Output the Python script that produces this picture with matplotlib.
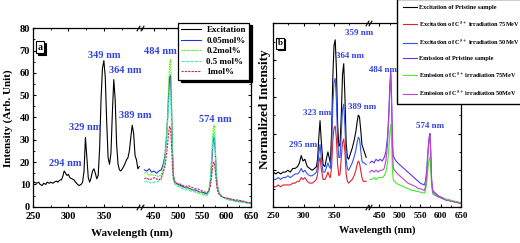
import matplotlib
matplotlib.use('Agg')
import matplotlib.pyplot as plt
from matplotlib.ticker import MultipleLocator, FixedLocator, NullFormatter
from matplotlib import transforms

plt.rcParams['font.family'] = 'serif'
plt.rcParams['font.serif'] = ['Liberation Serif', 'DejaVu Serif']
plt.rcParams['font.weight'] = 'bold'
plt.rcParams['mathtext.fontset'] = 'stix'
plt.rcParams['axes.linewidth'] = 0.9
plt.rcParams['xtick.direction'] = 'in'
plt.rcParams['ytick.direction'] = 'in'
plt.rcParams['xtick.major.size'] = 2.5
plt.rcParams['ytick.major.size'] = 2.5
plt.rcParams['xtick.minor.size'] = 1.5
plt.rcParams['ytick.minor.size'] = 1.5

# ---------------- panel a data ----------------
a_ex_wl = [250, 252, 255, 258, 260, 263, 265, 268, 270, 273, 275, 278, 280, 283, 285, 288,
           290, 292, 294, 296, 298, 300, 302, 305, 308, 310, 313, 315, 318, 320, 322, 324,
           326, 328, 330, 332, 334, 336, 338, 340, 342, 344, 346, 348, 350, 352, 354, 356,
           358, 360, 362, 364, 366, 368, 370, 372, 374, 376, 378, 380, 382, 384, 386, 388,
           390, 392, 394, 396, 398, 400]
a_excitation = [10.5, 11, 10.5, 11, 10, 9.5, 10.5, 10, 11, 10.5, 11, 10.5, 11, 11.5, 11, 12,
                12, 13.5, 16, 15, 14, 14.5, 13, 12.5, 12, 11, 10, 9.5, 10, 11, 16, 31,
                22, 13, 11, 13, 16, 17, 15, 12.5, 14, 26, 48, 62, 65.5, 58, 38, 22,
                19, 24, 42, 57, 48, 28, 19, 16.5, 16, 17, 18, 19.5, 21, 22, 25, 31,
                36.5, 33, 23, 21, 17, 18]

a_em_wl = [430, 435, 440, 445, 450, 455, 460, 465, 470, 473, 476, 478, 480, 482, 484, 486,
           488, 490, 493, 496, 500, 505, 510, 515, 520, 525, 530, 535, 540, 545, 550, 555,
           560, 563, 566, 568, 570, 572, 574, 576, 578, 580, 583, 586, 590, 595, 600, 605,
           610, 615, 620, 625, 630, 635, 640, 645, 650]
a_005 = [16.5, 16, 17, 15.5, 16, 15, 16, 16.5, 20, 24, 32, 40, 50, 58, 59, 45,
         25, 14, 11, 10.5, 10, 9.5, 9, 8.5, 8.5, 8, 7.5, 7.5, 7, 6.5, 6.5, 6,
         6, 7, 11, 16, 23, 30, 31.5, 26, 16, 10, 7, 5.5, 4.5, 4, 3.5, 3.5,
         3, 3, 2.5, 2.5, 2.5, 2, 2, 1.5, 1.5]
a_02 = [15, 15.5, 14, 14.5, 14, 14, 13.5, 14.5, 19, 24, 33, 42, 54, 64, 66, 48,
        26, 14, 11, 10, 9.5, 9, 8.5, 8.5, 8, 7.5, 7.5, 7, 6.5, 6.5, 6, 5.5,
        5.5, 7, 12, 19, 28, 35, 36.5, 30, 18, 11, 7, 5.5, 4.5, 4, 3.5, 3,
        3, 2.5, 2.5, 2.5, 2, 2, 2, 1.5, 1.5]
a_05 = [11, 11.5, 11, 10.5, 11, 11, 11.5, 12, 17, 22, 30, 38, 46, 51, 50, 38,
        22, 12, 10, 9.5, 9, 8.5, 8, 7.5, 7.5, 7, 7, 6.5, 6, 6, 5.5, 5,
        5, 6.5, 11, 18, 26, 32, 33, 27, 17, 10, 6.5, 5, 4.5, 4, 3.5, 3,
        3, 2.5, 2.5, 2, 2, 2, 1.5, 1.5, 1.5]
a_1 = [12.5, 13, 12, 12.5, 13, 12.5, 12, 13, 16, 19, 24, 28, 33, 36, 35, 28,
       18, 12, 11, 10.5, 10.5, 10, 9.5, 9, 9.5, 9, 8.5, 8, 8, 7.5, 7, 6.5,
       6.5, 7, 9, 12, 16, 19.5, 20, 17, 12, 8, 6, 5, 4.5, 4, 4, 3.5,
       3.5, 3, 3, 3, 2.5, 2.5, 2, 2, 1.5]
a_labels = ['Excitation', '0.05mol%', '0.2mol%', '0.5 mol%', '1mol%']
a_peaks_left = [('294 nm', 296, 19.5), ('329 nm', 323, 35.5), ('349 nm', 350, 68),
                ('364 nm', 380, 61), ('389 nm', 395, 41)]
a_peaks_right = [('484 nm', 464, 69.5), ('574 nm', 577, 39)]

# ---------------- panel b data ----------------
b_ex_wl = [250, 254, 258, 262, 266, 270, 274, 278, 282, 286, 290, 293, 296, 299, 302, 306,
           310, 314, 318, 321, 323, 325, 327, 329, 332, 335, 338, 340, 342, 344, 346, 348,
           350, 352, 354, 356, 358, 360, 362, 364, 366, 368, 370, 372, 374, 377, 380, 383,
           386, 388, 390, 392, 394, 396, 398, 400, 403]
b_ex_pristine = [0.19, 0.18, 0.19, 0.18, 0.19, 0.19, 0.2, 0.19, 0.21, 0.21, 0.22, 0.24, 0.28, 0.25, 0.26, 0.22,
                 0.21, 0.2, 0.21, 0.22, 0.26, 0.38, 0.47, 0.36, 0.23, 0.22, 0.27, 0.3, 0.27, 0.24, 0.4, 0.7,
                 0.88, 0.91, 0.75, 0.45, 0.33, 0.34, 0.5, 0.72, 0.78, 0.6, 0.35, 0.27, 0.26, 0.29, 0.32, 0.36,
                 0.41, 0.46, 0.5, 0.49, 0.42, 0.34, 0.32, 0.3, 0.27]
b_ex_75 = [0.11, 0.11, 0.12, 0.11, 0.12, 0.12, 0.12, 0.12, 0.13, 0.13, 0.14, 0.14, 0.16, 0.15, 0.16, 0.14,
           0.13, 0.13, 0.14, 0.15, 0.18, 0.24, 0.27, 0.21, 0.15, 0.15, 0.17, 0.19, 0.17, 0.16, 0.22, 0.36,
           0.43, 0.44, 0.37, 0.23, 0.17, 0.18, 0.27, 0.35, 0.37, 0.3, 0.18, 0.14, 0.13, 0.14, 0.15, 0.17,
           0.2, 0.23, 0.25, 0.24, 0.2, 0.16, 0.14, 0.14, 0.14]
b_ex_50 = [0.15, 0.15, 0.16, 0.15, 0.16, 0.16, 0.17, 0.16, 0.17, 0.18, 0.18, 0.19, 0.21, 0.19, 0.2, 0.18,
           0.17, 0.17, 0.18, 0.19, 0.22, 0.29, 0.34, 0.27, 0.19, 0.19, 0.22, 0.24, 0.22, 0.21, 0.32, 0.55,
           0.68, 0.7, 0.58, 0.36, 0.27, 0.27, 0.4, 0.53, 0.56, 0.44, 0.26, 0.21, 0.2, 0.22, 0.24, 0.27,
           0.31, 0.35, 0.38, 0.37, 0.31, 0.25, 0.24, 0.24, 0.23]

b_em_wl = [427, 432, 437, 442, 447, 452, 457, 462, 466, 470, 473, 476, 478, 480, 482, 484,
           486, 488, 491, 495, 500, 505, 510, 515, 520, 525, 530, 535, 540, 545, 550, 555,
           560, 563, 566, 568, 570, 572, 574, 576, 578, 581, 585, 590, 595, 600, 605, 610,
           615, 620, 625, 630, 635, 640, 645, 650]
b_em_pristine = [0.24, 0.25, 0.24, 0.26, 0.25, 0.26, 0.25, 0.27, 0.3, 0.38, 0.5, 0.68, 0.74, 0.6, 0.38, 0.28,
                 0.27, 0.26, 0.25, 0.24, 0.23, 0.22, 0.21, 0.2, 0.19, 0.18, 0.17, 0.16, 0.15, 0.14, 0.13, 0.125,
                 0.12, 0.14, 0.2, 0.27, 0.33, 0.38, 0.4, 0.3, 0.15, 0.09, 0.08, 0.07, 0.06, 0.055, 0.05, 0.045,
                 0.04, 0.04, 0.035, 0.03, 0.03, 0.025, 0.025, 0.02]
b_em_75 = [0.15, 0.15, 0.16, 0.15, 0.16, 0.16, 0.16, 0.17, 0.19, 0.24, 0.31, 0.41, 0.45, 0.36, 0.2, 0.15,
           0.14, 0.14, 0.13, 0.125, 0.12, 0.115, 0.11, 0.105, 0.1, 0.095, 0.09, 0.09, 0.085, 0.085, 0.08, 0.08,
           0.075, 0.09, 0.13, 0.18, 0.23, 0.26, 0.27, 0.21, 0.11, 0.07, 0.065, 0.06, 0.055, 0.05, 0.045, 0.045,
           0.04, 0.04, 0.035, 0.035, 0.03, 0.03, 0.025, 0.025]
b_em_50 = [0.19, 0.2, 0.19, 0.2, 0.19, 0.2, 0.2, 0.21, 0.25, 0.34, 0.47, 0.65, 0.72, 0.56, 0.33, 0.22,
           0.2, 0.2, 0.19, 0.18, 0.17, 0.16, 0.15, 0.14, 0.13, 0.125, 0.12, 0.115, 0.11, 0.1, 0.1, 0.095,
           0.09, 0.11, 0.17, 0.25, 0.32, 0.37, 0.39, 0.29, 0.14, 0.08, 0.07, 0.06, 0.055, 0.05, 0.045, 0.04,
           0.035, 0.035, 0.03, 0.03, 0.025, 0.025, 0.02, 0.02]
b_labels = ['Excitation of Pristine sample',
            r'Excitation of C$^{\mathbf{5+}}$ irradiation 75MeV',
            r'Excitation of C$^{\mathbf{5+}}$ irradiation 50MeV',
            'Emission of Pristine sample',
            r'Emission of C$^{\mathbf{5+}}$ irradiation 75MeV',
            r'Emission of C$^{\mathbf{5+}}$ irradiation 50MeV']
b_peaks_left = [('295 nm', 299, 0.34), ('323 nm', 323, 0.51), ('359 nm', 391, 0.945),
                ('364 nm', 377, 0.823), ('389 nm', 397, 0.546)]
b_peaks_right = [('484 nm', 460, 0.744), ('574 nm', 575, 0.44)]

W, H = 520, 243
peak_color = '#3344dd'
lw = 0.8

fig = plt.figure(figsize=(W / 100, H / 100), dpi=100)


def fbox(x0, y0, x1, y1):
    # pixel box (top-left origin) -> figure fraction rect
    return [x0 / W, 1 - y1 / H, (x1 - x0) / W, (y1 - y0) / H]


def break_marks(ax):
    for dx in (-1.6, 1.6):
        tr = transforms.offset_copy(ax.transAxes, fig=fig, x=dx, y=0, units='dots')
        ax.plot([1, 1], [0, 1], transform=tr, marker=[(-1, -1.6), (1, 1.6)],
                markersize=4, linestyle='none', color='k', mec='k', mew=0.8, clip_on=False)


def style_pair(axl, axr, fs, left_lim, right_lim, ylim):
    axl.set_xlim(*left_lim)
    axr.set_xlim(*right_lim)
    for ax in (axl, axr):
        ax.set_ylim(*ylim)
        ax.xaxis.set_major_locator(MultipleLocator(50))
        ax.xaxis.set_minor_locator(MultipleLocator(25))
        ax.tick_params(which='both', top=True, labelsize=fs, pad=3.5)
    axl.spines['right'].set_visible(False)
    axr.spines['left'].set_visible(False)
    axr.patch.set_visible(False)
    axl.tick_params(which='both', right=False)
    axr.tick_params(which='both', left=False, labelleft=False, right=True)
    axl.xaxis.set_major_locator(FixedLocator([250, 300, 350]))
    axl.xaxis.set_minor_locator(FixedLocator([275, 325, 375]))
    break_marks(axl)


def panel_tag(ax, letter, fs):
    shadow = transforms.offset_copy(ax.transAxes, fig=fig, x=1.5, y=-1.5, units='dots')
    ax.text(0.045, 0.88, letter, transform=shadow, fontsize=fs, color='k',
            bbox=dict(boxstyle='square,pad=0.15', fc='k', ec='k', lw=0.8))
    ax.text(0.045, 0.88, letter, transform=ax.transAxes, fontsize=fs, color='k',
            bbox=dict(boxstyle='square,pad=0.15', fc='white', ec='k', lw=0.8))


# ---------------- panel a ----------------
axa1 = fig.add_axes(fbox(33, 28.3, 140, 206.7))
axa2 = fig.add_axes(fbox(140, 28.3, 251, 206.7))
style_pair(axa1, axa2, 7.5, (250, 401), (421, 650), (0, 80))
axa1.yaxis.set_major_locator(MultipleLocator(10))
axa1.yaxis.set_minor_locator(MultipleLocator(5))
axa2.yaxis.set_major_locator(MultipleLocator(10))
axa2.yaxis.set_minor_locator(MultipleLocator(5))
axa1.tick_params(axis='y', pad=2)

h0, = axa1.plot(a_ex_wl, a_excitation, color='k', lw=lw)
h1, = axa2.plot(a_em_wl, a_005, color='#2233dd', lw=lw)
h2, = axa2.plot(a_em_wl, a_02, color='#55ee11', lw=lw, linestyle=(0, (1.5, 0.8)))
h3, = axa2.plot(a_em_wl, a_05, color='#44eebb', lw=lw, linestyle=(0, (3, 1)))
h4, = axa2.plot(a_em_wl, a_1, color='#cc2255', lw=lw, linestyle=(0, (2, 1)))

for txt, x, y in a_peaks_left:
    axa1.text(x, y, txt, color=peak_color, fontsize=7.5, ha='center', va='center', zorder=5)
for txt, x, y in a_peaks_right:
    axa2.text(x, y, txt, color=peak_color, fontsize=7.5, ha='center', va='center', zorder=5)

panel_tag(axa1, 'a', 7)
fig.text(8 / W, 1 - 118 / H, 'Intensity (Arb. Unit)', rotation=90, fontsize=8,
         ha='center', va='center')
fig.text(132 / W, 1 - 233 / H, 'Wavelength (nm)', fontsize=8, ha='center', va='center')

leg_a = fig.legend([h0, h1, h2, h3, h4], a_labels, loc='upper left',
                   bbox_to_anchor=(178 / W, 1 - 22.7 / H), bbox_transform=fig.transFigure,
                   fontsize=6.5, frameon=True, fancybox=False, edgecolor='k',
                   framealpha=1, borderaxespad=0, handlelength=2.2, handletextpad=0.6,
                   labelspacing=0.25, borderpad=0.35,
                   shadow={'color': 'k', 'alpha': 1})
leg_a.get_frame().set_linewidth(0.9)

# ---------------- panel b ----------------
axb1 = fig.add_axes(fbox(273.3, 23.3, 368.3, 207))
axb2 = fig.add_axes(fbox(368.3, 23.3, 461, 207))
style_pair(axb1, axb2, 6.5, (250, 406.5), (423, 650), (0, 1))
for ax in (axb1, axb2):
    ax.yaxis.set_major_locator(MultipleLocator(0.2))
    ax.yaxis.set_minor_locator(MultipleLocator(0.1))
    ax.yaxis.set_major_formatter(NullFormatter())

g0, = axb1.plot(b_ex_wl, b_ex_pristine, color='k', lw=lw)
g1, = axb1.plot(b_ex_wl, b_ex_75, color='#dd2233', lw=lw)
g2, = axb1.plot(b_ex_wl, b_ex_50, color='#3355ee', lw=lw)
g3, = axb2.plot(b_em_wl, b_em_pristine, color='#6633ee', lw=lw)
g4, = axb2.plot(b_em_wl, b_em_75, color='#44ee22', lw=lw)
g5, = axb2.plot(b_em_wl, b_em_50, color='#bb44cc', lw=lw)

for txt, x, y in b_peaks_left:
    axb1.text(x, y, txt, color=peak_color, fontsize=6.5, ha='center', va='center', zorder=5)
for txt, x, y in b_peaks_right:
    axb2.text(x, y, txt, color=peak_color, fontsize=6.5, ha='center', va='center', zorder=5)

panel_tag(axb1, 'b', 6.5)
fig.text(265 / W, 1 - 109 / H, 'Normalized Intensity', rotation=90, fontsize=9.5,
         ha='center', va='center')
fig.text(377 / W, 1 - 230 / H, 'Wavelength (nm)', fontsize=7.5, ha='center', va='center')

leg_b = fig.legend([g0, g1, g2, g3, g4, g5], b_labels, loc='upper left',
                   bbox_to_anchor=(397 / W, 1.005), bbox_transform=fig.transFigure,
                   fontsize=4.5, frameon=True, fancybox=False, edgecolor='k',
                   framealpha=1, borderaxespad=0, handlelength=2.2, handletextpad=0.35,
                   labelspacing=1.4, borderpad=1.0)
leg_b.get_frame().set_linewidth(1.0)

fig.savefig('out.png', dpi=100)
